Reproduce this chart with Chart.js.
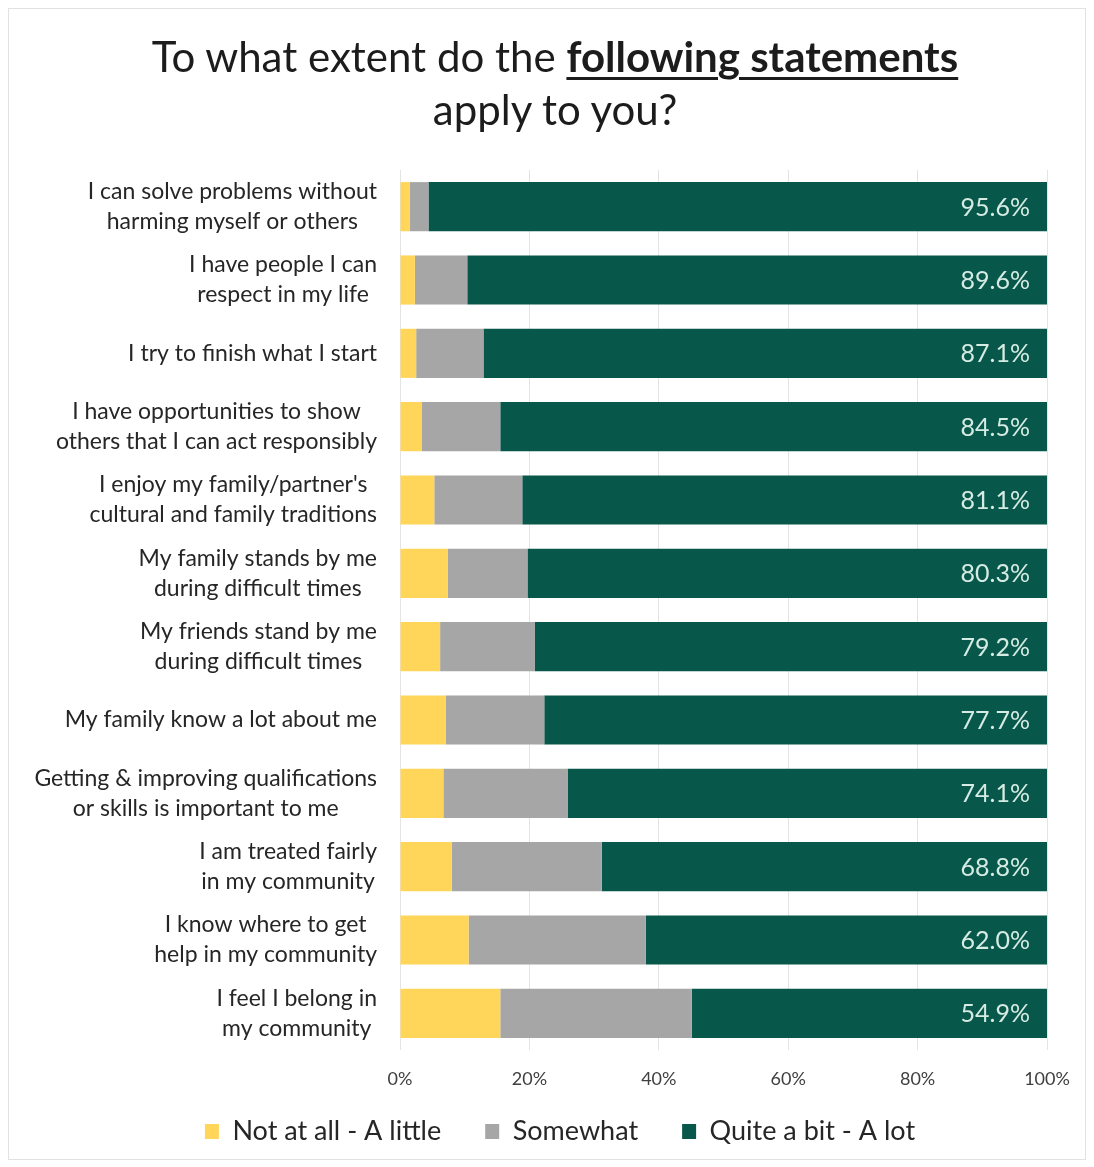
<!DOCTYPE html>
<html>
<head>
<meta charset="utf-8">
<script src="https://cdn.jsdelivr.net/npm/chart.js@4/dist/chart.umd.min.js"></script>
<style>
  html, body { margin: 0; padding: 0; background: #ffffff; }
  #wrap { position: relative; width: 1094px; height: 1167px; overflow: hidden; }
  #frame { position: absolute; left: 8px; top: 8px; width: 1078px; height: 1152px; border: 1px solid #e2e2e2; box-sizing: border-box; }
  canvas { position: absolute; left: 0; top: 0; }
  #title { position: absolute; left: 8px; top: 30px; width: 1094px; text-align: center;
           font-family: Lato, "Open Sans", sans-serif; font-size: 42px; line-height: 53px; color: #1c1c1c; z-index: 2; }
  #title b { font-weight: 700; text-decoration: underline; text-decoration-thickness: 3px; text-underline-offset: 5px; }
</style>
</head>
<body>
<div id="wrap">
  <div id="frame"></div>
  <canvas id="chart" width="1094" height="1167"></canvas>
  <div id="title">To what extent do the <b>following statements</b><br>apply to you?</div>
</div>
<script>
// Survey statements (one entry per bar, split into display lines)
const statements = [
  ["I can solve problems without", "harming myself or others"],
  ["I have people I can", "respect in my life"],
  ["I try to finish what I start"],
  ["I have opportunities to show", "others that I can act responsibly"],
  ["I enjoy my family/partner's", "cultural and family traditions"],
  ["My family stands by me", "during difficult times"],
  ["My friends stand by me", "during difficult times"],
  ["My family know a lot about me"],
  ["Getting & improving qualifications", "or skills is important to me"],
  ["I am treated fairly", "in my community"],
  ["I know where to get", "help in my community"],
  ["I feel I belong in", "my community"]
];

// Response shares (%)
const notAtAll  = [1.5, 2.3, 2.5, 3.4, 5.3, 7.4, 6.2, 7.1, 6.7, 8.0, 10.6, 15.5];
const somewhat  = [2.9, 8.1, 10.4, 12.1, 13.6, 12.3, 14.6, 15.2, 19.2, 23.2, 27.4, 29.6];
const quiteABit = [95.6, 89.6, 87.1, 84.5, 81.1, 80.3, 79.2, 77.7, 74.1, 68.8, 62.0, 54.9];

const seriesNames = ["Not at all - A little", "Somewhat", "Quite a bit - A lot"];
const tickLabels = ["0%", "20%", "40%", "60%", "80%", "100%"];

const FONT = 'Lato, "Open Sans", sans-serif';
const LABEL_RIGHT = 377;

// Draws the wrapped statement text beside each bar and the value inside the green bars
const sideLabels = {
  id: 'sideLabels',
  afterDatasetsDraw(chart) {
    const { ctx } = chart;
    const yScale = chart.scales.y;
    ctx.save();
    ctx.font = '23px ' + FONT;
    ctx.fillStyle = '#262626';
    ctx.textAlign = 'center';
    ctx.textBaseline = 'middle';
    const lh = 30;
    statements.forEach((lines, i) => {
      const yc = yScale.getPixelForValue(i);
      const w = Math.max(...lines.map(l => ctx.measureText(l).width));
      const cx = LABEL_RIGHT - w / 2;
      lines.forEach((l, k) => ctx.fillText(l, cx, yc + (k - (lines.length - 1) / 2) * lh));
    });

    const meta = chart.getDatasetMeta(2);
    ctx.font = '25px ' + FONT;
    ctx.fillStyle = '#d5ebe3';
    ctx.textAlign = 'right';
    meta.data.forEach((bar, i) => {
      ctx.fillText(quiteABit[i].toFixed(1) + '%', bar.x - 17, bar.y + 1);
    });
    ctx.restore();
  }
};

// Pulls the legend row a little closer to the axis labels
const legendLift = {
  id: 'legendLift',
  afterLayout(chart) {
    const lg = chart.legend;
    if (lg) { lg.top -= 12; lg.bottom -= 12; }
  }
};

new Chart(document.getElementById('chart'), {
  type: 'bar',
  data: {
    labels: statements,
    datasets: [
      { label: seriesNames[0], data: notAtAll,  backgroundColor: '#FFD55A' },
      { label: seriesNames[1], data: somewhat,  backgroundColor: '#A6A6A6' },
      { label: seriesNames[2], data: quiteABit, backgroundColor: '#07584A' }
    ]
  },
  options: {
    indexAxis: 'y',
    responsive: false,
    animation: false,
    devicePixelRatio: 1,
    datasets: { bar: { categoryPercentage: 1, barPercentage: 0.67, borderWidth: 0 } },
    layout: { padding: { top: 170, left: 73, right: 47, bottom: 0 } },
    scales: {
      x: {
        stacked: true,
        min: 0, max: 100,
        ticks: {
          stepSize: 20,
          padding: 18,
          color: '#404040',
          font: { family: FONT, size: 18 },
          callback: (v, idx) => tickLabels[idx]
        },
        grid: { color: '#e4e4e4', drawTicks: false },
        border: { display: false },
        afterFit: s => { s.height = 36; }
      },
      y: {
        stacked: true,
        ticks: { display: false },
        grid: { display: false },
        border: { display: false },
        afterFit: s => { s.width = 327; }
      }
    },
    plugins: {
      title: { display: false },
      tooltip: { enabled: false },
      legend: {
        position: 'bottom',
        labels: {
          boxWidth: 14, boxHeight: 15,
          padding: 44,
          color: '#262626',
          font: { family: FONT, size: 27 }
        }
      }
    }
  },
  plugins: [sideLabels, legendLift]
});
</script>
</body>
</html>
